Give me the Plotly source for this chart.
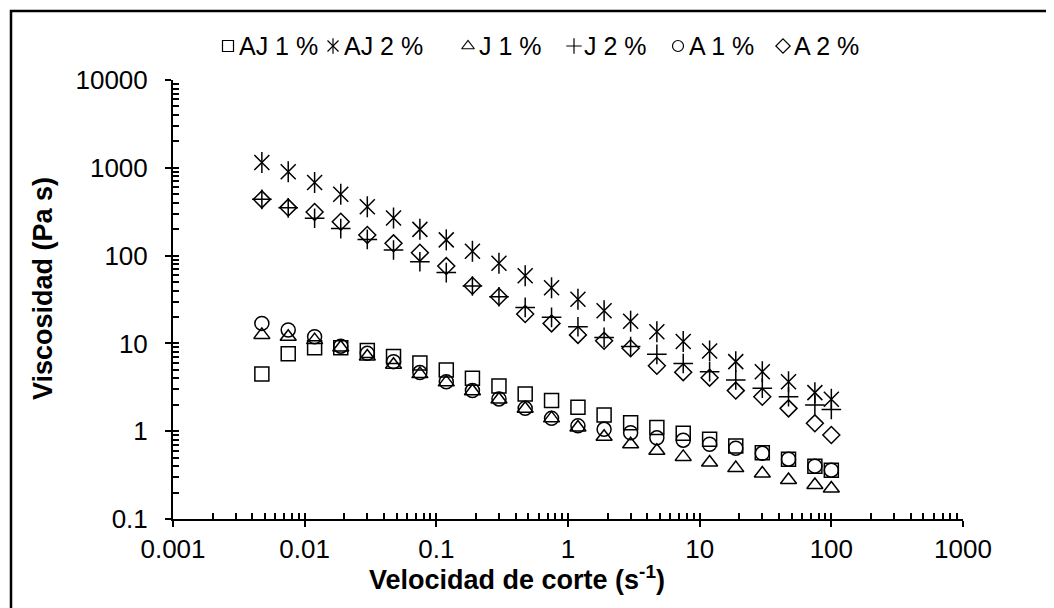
import plotly.graph_objects as go

# ---------------- data ----------------
shear_rate = [0.00473, 0.0075, 0.0119, 0.0188, 0.0299, 0.0473, 0.075, 0.119, 0.188,
              0.299, 0.473, 0.75, 1.19, 1.88, 2.99, 4.73, 7.5, 11.9, 18.8, 29.9,
              47.3, 75, 100]

aj1 = [4.47, 7.6, 8.9, 8.9, 8.3, 7.1, 6.0, 4.97, 4.0, 3.27, 2.65, 2.23, 1.87, 1.53,
       1.25, 1.1, 0.95, 0.81, 0.68, 0.57, 0.48, 0.40, 0.36]
aj2 = [1150, 900, 680, 500, 360, 268, 199, 151, 112, 82, 59, 43, 31.8, 23.6, 17.9,
       13.6, 10.5, 8.2, 6.2, 4.76, 3.66, 2.75, 2.31]
j1 = [12.5, 11.9, 10.9, 9.0, 7.1, 5.7, 4.47, 3.6, 2.85, 2.3, 1.8, 1.4, 1.1, 0.865,
      0.71, 0.60, 0.51, 0.44, 0.38, 0.33, 0.278, 0.244, 0.223]
j2 = [437, 350, 266, 203, 153, 116, 85, 64, 45, 34, 25.7, 19.8, 15.5, 11.7, 9.2,
      7.5, 5.9, 4.76, 3.83, 3.08, 2.47, 1.99, 1.77]
a1 = [16.9, 14.2, 11.9, 9.3, 7.7, 6.2, 4.65, 3.66, 2.9, 2.33, 1.82, 1.4, 1.15, 1.05,
      0.96, 0.84, 0.79, 0.71, 0.64, 0.56, 0.48, 0.40, 0.36]
a2 = [437, 352, 314, 243, 172, 138, 108, 76, 45.4, 34, 21.6, 16.9, 12.5, 10.7, 8.8,
      5.57, 4.7, 4.07, 2.9, 2.47, 1.82, 1.23, 0.906]

series_names = ["AJ 1 %", "AJ 2 %", "J 1 %", "J 2 %", "A 1 %", "A 2 %"]

x_tickvals = [0.001, 0.01, 0.1, 1, 10, 100, 1000]
x_ticktext = ["0.001", "0.01", "0.1", "1", "10", "100", "1000"]
y_tickvals = [0.1, 1, 10, 100, 1000, 10000]
y_ticktext = ["0.1", "1", "10", "100", "1000", "10000"]

x_title = "Velocidad de corte (s<sup>-1</sup>)"
y_title = "Viscosidad (Pa s)"

# ---------------- styling / layout constants ----------------
W, H = 1054, 608
OFF = 8  # page body margin shifts the figure by this much; positions below are page px
def fx(px):
    return px - OFF

PLOT_L, PLOT_R, PLOT_T, PLOT_B = 173, 963, 80, 519   # plot area in page pixels
LEG_TOP = 20
ML = fx(PLOT_L)
MR = W - fx(PLOT_R)
MT = fx(LEG_TOP)
MB = H - fx(PLOT_B)
PW, PH = W - ML - MR, H - MT - MB
y_dom_top = (PLOT_B - PLOT_T) / PH

FONT = "Liberation Sans, Arial, sans-serif"
TICK_SIZE = 26
TITLE_SIZE = 27
LEG_SIZE = 25
MS = 14
LW = 1.5

minor_x = [m * 10 ** e for e in range(-3, 3) for m in range(2, 10)]
minor_y = [m * 10 ** e for e in range(-1, 4) for m in range(2, 10)]

styles = {
    "AJ 1 %": [dict(symbol="square-open", size=MS)],
    "AJ 2 %": [dict(symbol="x-thin-open", size=MS + 1), dict(symbol="line-ns-open", size=MS + 1)],
    "J 1 %": [dict(symbol="triangle-up-open", size=MS)],
    "J 2 %": [dict(symbol="cross-thin-open", size=MS)],
    "A 1 %": [dict(symbol="circle-open", size=MS)],
    "A 2 %": [dict(symbol="diamond-open", size=MS - 1)],
}
values = {"AJ 1 %": aj1, "AJ 2 %": aj2, "J 1 %": j1, "J 2 %": j2, "A 1 %": a1, "A 2 %": a2}

fig = go.Figure()

for name in series_names:
    for st in styles[name]:
        fig.add_trace(go.Scatter(
            x=shear_rate, y=values[name], mode="markers", name=name, showlegend=False,
            marker=dict(symbol=st["symbol"], size=st["size"], color="black",
                        line=dict(color="black", width=LW)),
            xaxis="x", yaxis="y", cliponaxis=False,
        ))

# invisible trace so the overlay axes (for crossing major ticks) get drawn
fig.add_trace(go.Scatter(x=shear_rate, y=aj1, mode="markers", marker=dict(opacity=0),
                         showlegend=False, hoverinfo="skip", xaxis="x2", yaxis="y2"))

# ---------------- custom legend (own axes over the top strip) ----------------
leg_marker_px = [228, 333, 468, 574, 678, 783]
leg_text_px = [237, 342, 477, 582, 687, 792]
leg_y_px = 46
leg_ms = 11
leg_y = (PLOT_T - leg_y_px) / (PLOT_T - LEG_TOP)
for name, mx, tx in zip(series_names, leg_marker_px, leg_text_px):
    for st in styles[name]:
        fig.add_trace(go.Scatter(
            x=[mx], y=[leg_y], mode="markers", showlegend=False, hoverinfo="skip",
            marker=dict(symbol=st["symbol"], size=leg_ms, color="black",
                        line=dict(color="black", width=1.2)),
            xaxis="x3", yaxis="y3", cliponaxis=False,
        ))
    fig.add_annotation(x=tx, y=leg_y, xref="x3", yref="y3", text=name, showarrow=False,
                       xanchor="left", yanchor="middle",
                       font=dict(family=FONT, size=LEG_SIZE, color="black"))

axis_common = dict(type="log", showgrid=False, zeroline=False, showline=True,
                   linecolor="black", linewidth=2, tickcolor="black", tickwidth=2,
                   ticklen=6, automargin=False,
                   tickfont=dict(family=FONT, size=TICK_SIZE, color="black"))

fig.update_layout(
    width=W, height=H,
    margin=dict(l=ML, r=MR, t=MT, b=MB, pad=0, autoexpand=False),
    paper_bgcolor="white", plot_bgcolor="white",
    showlegend=False,
    xaxis=dict(**axis_common, range=[-3, 3], domain=[0, 1], anchor="y",
               ticks="outside", tickvals=x_tickvals, ticktext=x_ticktext,
               ticklabelstandoff=0,
               minor=dict(tickvals=minor_x, ticks="inside", ticklen=6, tickwidth=1.5,
                          tickcolor="black", showgrid=False)),
    yaxis=dict(**axis_common, range=[-1, 4], domain=[0, y_dom_top], anchor="x",
               ticks="outside", tickvals=y_tickvals, ticktext=y_ticktext,
               ticklabelstandoff=12,
               minor=dict(tickvals=minor_y, ticks="inside", ticklen=6, tickwidth=1.5,
                          tickcolor="black", showgrid=False)),
    xaxis2=dict(type="log", range=[-3, 3], overlaying="x", anchor="y2", showgrid=False,
                zeroline=False, showline=False, ticks="inside", ticklen=6, tickwidth=2,
                tickcolor="black", tickvals=x_tickvals, showticklabels=False,
                automargin=False),
    yaxis2=dict(type="log", range=[-1, 4], overlaying="y", anchor="x2", showgrid=False,
                zeroline=False, showline=False, ticks="inside", ticklen=6, tickwidth=2,
                tickcolor="black", tickvals=y_tickvals, showticklabels=False,
                automargin=False),
    xaxis3=dict(range=[PLOT_L, PLOT_R], domain=[0, 1], anchor="y3", visible=False,
                fixedrange=True, automargin=False),
    yaxis3=dict(range=[0, 1], domain=[y_dom_top, 1], anchor="x3", visible=False,
                fixedrange=True, automargin=False),
)

def paper_x(px):
    return (px - PLOT_L) / PW

def paper_y(py):
    return (PLOT_B - py) / PH

# axis titles
fig.add_annotation(text=x_title, xref="paper", yref="paper",
                   x=paper_x(517), y=paper_y(578), showarrow=False,
                   xanchor="center", yanchor="middle",
                   font=dict(family=FONT, size=TITLE_SIZE, color="black", weight="bold"))
fig.add_annotation(text=y_title, xref="paper", yref="paper", textangle=-90,
                   x=paper_x(43), y=paper_y(289), showarrow=False,
                   xanchor="center", yanchor="middle",
                   font=dict(family=FONT, size=TITLE_SIZE, color="black", weight="bold"))

# chart-area border (extends past the right/bottom edges like the reference crop)
fig.add_shape(type="rect", xref="paper", yref="paper",
              x0=paper_x(11), x1=paper_x(W + 30),
              y0=paper_y(H + 30), y1=paper_y(11),
              line=dict(color="black", width=2.5), fillcolor="rgba(0,0,0,0)", layer="above")

fig.write_html("out.html")
